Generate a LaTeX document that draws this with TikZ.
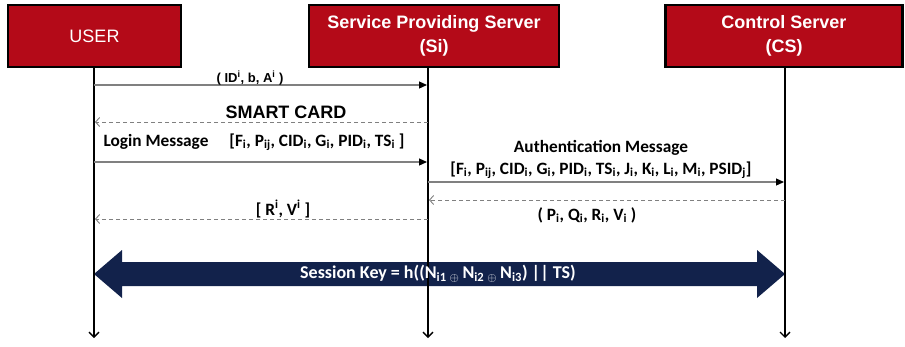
\documentclass[tikz,border=0pt]{standalone}
\usepackage{fontspec}
\setmainfont{Liberation Sans}
\newfontfamily\calfont{Carlito}
\usetikzlibrary{arrows.meta,calc}
\definecolor{boxred}{HTML}{B40A18}
\definecolor{navy}{HTML}{12224B}
\definecolor{msggray}{HTML}{808080}
\begin{document}
\begin{tikzpicture}[x=1pt,y=-1pt,
  actor/.style={draw=black, line width=2.5pt, fill=boxred, text=white, align=center, inner sep=0pt},
  life/.style={line width=1.8pt, -{Straight Barb[length=5pt,width=10pt,line width=1.3pt]}},
  sendmsg/.style={draw=msggray, line width=1.2pt, -{Triangle[length=8pt,width=7pt,color=black]}},
  retmsg/.style={draw=msggray, line width=1pt, dash pattern=on 4pt off 3pt, -{Straight Barb[length=4pt,width=9pt,line width=0.9pt]}},
  arlbl/.style={font=\bfseries\fontsize{13}{15}\selectfont, inner sep=0pt},
  callbl/.style={font=\calfont\bfseries\fontsize{17.3}{20}\selectfont, inner sep=0pt}
]
\useasboundingbox (0,0) rectangle (905,346);

% actor boxes
\node[actor, minimum width=173pt, minimum height=62pt, font=\fontsize{18}{24}\selectfont] (user) at (94.5,36) {USER};
\node[actor, minimum width=250pt, minimum height=62pt, font=\fontsize{18}{24}\selectfont\bfseries] (si) at (434,36) {Service Providing Server\\(Si)};
\node[actor, minimum width=237pt, minimum height=62pt, font=\fontsize{18}{24}\selectfont\bfseries] (cs) at (784,36) {Control Server\\(CS)};

% lifelines
\coordinate (uTop) at (94,67.5);  \coordinate (uEnd) at (94,338);
\coordinate (sTop) at (428,67.5); \coordinate (sEnd) at (428,338);
\coordinate (cTop) at (785,67.5); \coordinate (cEnd) at (785,338);

% session key arrow
\coordinate (skL) at (94,274);
\coordinate (skR) at (785,274);
\fill[navy] (skL) -- ++(28,-24) -- ++(0,12) -- ($(skR)+(-28,-12)$) -- ++(0,-12) -- (skR) -- ++(-28,24) -- ++(0,-12) -- ($(skL)+(28,12)$) -- ++(0,12) -- cycle;

\draw[life] (uTop) -- (uEnd);
\draw[life] (sTop) -- (sEnd);
\draw[life] (cTop) -- (cEnd);

\node[font=\calfont\bfseries\fontsize{18}{20}\selectfont, text=white, inner sep=0pt] (sk) at (438,274)
  {Session Key = h((N\textsubscript{i1}\,\textsubscript{$\oplus$}\,N\textsubscript{i2}\,\textsubscript{$\oplus$}\,N\textsubscript{i3}) || TS)};

% message 1
\coordinate (m1a) at (94,85);  \coordinate (m1b) at (427,85);
\draw[sendmsg] (m1a) -- (m1b);
\node[arlbl] (l1) at (250,78) {( ID\textsuperscript{i}, b, A\textsuperscript{i} )};

% message 2 (smart card)
\coordinate (m2a) at (428,122); \coordinate (m2b) at (95,122);
\draw[retmsg] (m2a) -- (m2b);
\node[font=\bfseries\fontsize{18}{20}\selectfont, inner sep=0pt] (l2) at (286,112) {SMART CARD};

% message 3 (login)
\coordinate (m3a) at (94,162); \coordinate (m3b) at (427,162);
\draw[sendmsg] (m3a) -- (m3b);
\node[callbl] (l3a) at (156,142) {Login Message};
\node[callbl] (l3b) at (317,142) {[F\textsubscript{i}, P\textsubscript{ij}, CID\textsubscript{i}, G\textsubscript{i}, PID\textsubscript{i}, TS\textsubscript{i} ]};

% message 4 (authentication)
\coordinate (m4a) at (428,182); \coordinate (m4b) at (784,182);
\draw[sendmsg] (m4a) -- (m4b);
\node[callbl] (l4a) at (601,148) {Authentication Message};
\node[callbl] (l4b) at (601,170) {[F\textsubscript{i}, P\textsubscript{ij}, CID\textsubscript{i}, G\textsubscript{i}, PID\textsubscript{i}, TS\textsubscript{i}, J\textsubscript{i}, K\textsubscript{i}, L\textsubscript{i}, M\textsubscript{i}, PSID\textsubscript{j}]};

% message 5
\coordinate (m5a) at (785,200); \coordinate (m5b) at (429,200);
\draw[retmsg] (m5a) -- (m5b);
\node[callbl] (l5) at (587,215) {( P\textsubscript{i}, Q\textsubscript{i}, R\textsubscript{i}, V\textsubscript{i} )};

% message 6
\coordinate (m6a) at (428,219); \coordinate (m6b) at (95,219);
\draw[retmsg] (m6a) -- (m6b);
\node[callbl] (l6) at (283,209) {[ R\textsuperscript{i}, V\textsuperscript{i} ]};
\end{tikzpicture}
\end{document}
